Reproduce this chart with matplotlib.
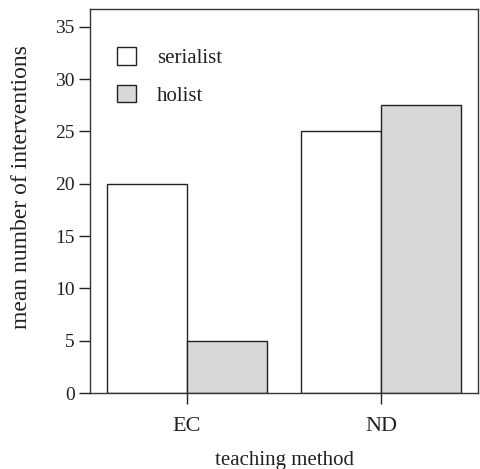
import numpy as np
import matplotlib
matplotlib.use("Agg")
import matplotlib.pyplot as plt

methods = ["EC", "ND"]
serialist = [20, 25]
holist = [5, 27.5]
yticks = [0, 5, 10, 15, 20, 25, 30, 35]

plt.rcParams['font.family'] = ['Liberation Serif', 'DejaVu Serif']

fig = plt.figure(figsize=(4.81, 4.69), dpi=100)
ax = fig.add_axes([0.187, 0.162, 0.807, 0.819])

x = np.arange(len(methods))
w = 0.41
ax.bar(x - w / 2, serialist, w, color="white", edgecolor="#222222", linewidth=1.0, label="serialist")
ax.bar(x + w / 2, holist, w, color="#d8d8d8", edgecolor="#222222", linewidth=1.0, label="holist")

ax.set_xlim(-0.5, 1.5)
ax.set_ylim(0, 36.7)
ax.set_xticks(x)
ax.set_xticklabels(methods)
ax.set_yticks(yticks)
ax.tick_params(axis="both", direction="out", length=8, width=1, color="#222222",
               labelsize=14, labelcolor="#222222", pad=3)
ax.tick_params(axis="x", length=8, pad=9, labelsize=16)
for s in ax.spines.values():
    s.set_color("#333333")
    s.set_linewidth(1.0)

ax.set_xlabel("teaching method", fontsize=15, color="#222222", labelpad=11)
ax.set_ylabel("mean number of interventions", fontsize=17, color="#222222")
ax.yaxis.set_label_coords(-0.15, 0.536)

ax.legend(loc="upper left", bbox_to_anchor=(0.07, 0.90), frameon=False, fontsize=15,
          handlelength=0.9, handleheight=0.9, handletextpad=1.0, labelspacing=0.8,
          borderpad=0, borderaxespad=0, labelcolor="#222222")

fig.savefig("out.png", dpi=100)
